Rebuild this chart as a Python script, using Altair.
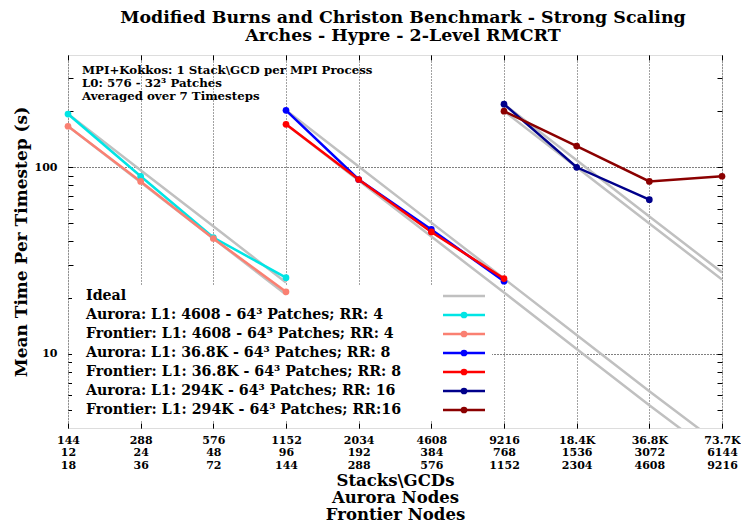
import altair as alt
import pandas as pd

# ---------------- data ----------------
stack_labels = ["144", "288", "576", "1152", "2034", "4608", "9216", "18.4K", "36.8K", "73.7K"]
aurora_nodes = ["12", "24", "48", "96", "192", "384", "768", "1536", "3072", "6144"]
frontier_nodes = ["18", "36", "72", "144", "288", "576", "1152", "2304", "4608", "9216"]

series_names = [
    "Ideal",
    "Aurora: L1: 4608 - 64³ Patches; RR: 4",
    "Frontier: L1: 4608 - 64³ Patches; RR: 4",
    "Aurora: L1: 36.8K - 64³ Patches; RR: 8",
    "Frontier: L1: 36.8K - 64³ Patches; RR: 8",
    "Aurora: L1: 294K - 64³ Patches; RR: 16",
    "Frontier: L1: 294K - 64³ Patches; RR:16",
]
series_colors = ["#c0c0c0", "#00e5e5", "#fa8072", "#0000ff", "#ff0000", "#00008b", "#8b0000"]

aurora_rr4_x = [0, 1, 2, 3]
aurora_rr4_t = [193, 89.5, 42.0, 25.6]
frontier_rr4_x = [0, 1, 2, 3]
frontier_rr4_t = [166, 84, 41.5, 21.5]
aurora_rr8_x = [3, 4, 5, 6]
aurora_rr8_t = [202, 86, 46.4, 24.5]
frontier_rr8_x = [3, 4, 5, 6]
frontier_rr8_t = [170, 86, 45.0, 25.3]
aurora_rr16_x = [6, 7, 8]
aurora_rr16_t = [218, 100, 67]
frontier_rr16_x = [6, 7, 8, 9]
frontier_rr16_t = [200, 130, 84, 89.5]

ideal_a4_x = [0, 1, 2, 3]
ideal_a4_t = [193, 96.5, 48.3, 24.1]
ideal_f4_x = [0, 1, 2, 3]
ideal_f4_t = [166, 83, 41.5, 20.8]
ideal_a8_x = [3, 4, 5, 6, 7, 8, 9]
ideal_a8_t = [202, 101, 50.5, 25.3, 12.6, 6.3, 3.2]
ideal_f8_x = [3, 4, 5, 6, 7, 8, 9]
ideal_f8_t = [170, 85, 42.5, 21.3, 10.6, 5.3, 2.7]
ideal_a16_x = [6, 7, 8, 9]
ideal_a16_t = [218, 109, 54.5, 27.3]
ideal_f16_x = [6, 7, 8, 9]
ideal_f16_t = [200, 100, 50, 25]

title_lines = ["Modified Burns and Christon Benchmark - Strong Scaling",
               "Arches - Hypre - 2-Level RMCRT"]
annotation_lines = ["MPI+Kokkos: 1 Stack\\GCD per MPI Process",
                    "L0: 576 - 32³ Patches",
                    "Averaged over 7 Timesteps"]
x_title_lines = ["Stacks\\GCDs", "Aurora Nodes", "Frontier Nodes"]
y_title = "Mean Time Per Timestep (s)"
y_major = [10, 100]
y_ticks_all = [5, 6, 7, 8, 9, 10, 20, 30, 40, 50, 60, 70, 80, 90, 100, 200, 300]
x_ticks = list(range(10))

# ---------------- tables ----------------
measured = [
    (aurora_rr4_x, aurora_rr4_t, series_names[1]),
    (frontier_rr4_x, frontier_rr4_t, series_names[2]),
    (aurora_rr8_x, aurora_rr8_t, series_names[3]),
    (frontier_rr8_x, frontier_rr8_t, series_names[4]),
    (aurora_rr16_x, aurora_rr16_t, series_names[5]),
    (frontier_rr16_x, frontier_rr16_t, series_names[6]),
]
rows = []
for xs_, ts_, name in measured:
    for xv, tv in zip(xs_, ts_):
        rows.append({"x": xv, "t": tv, "series": name})
meas_df = pd.DataFrame(rows)

ideal_sets = [
    (ideal_a4_x, ideal_a4_t), (ideal_f4_x, ideal_f4_t),
    (ideal_a8_x, ideal_a8_t), (ideal_f8_x, ideal_f8_t),
    (ideal_a16_x, ideal_a16_t), (ideal_f16_x, ideal_f16_t),
]
irows = []
for gi, (xs_, ts_) in enumerate(ideal_sets):
    for xv, tv in zip(xs_, ts_):
        irows.append({"x": xv, "t": tv, "series": "Ideal", "group": gi})
ideal_df = pd.DataFrame(irows)

legend_df = pd.DataFrame({"series": series_names, "row": list(range(len(series_names)))})
legend_dot_df = legend_df[legend_df["series"] != "Ideal"]

label_expr = "[" + ",".join(
    "['%s','%s','%s']" % (a, b, c) for a, b, c in zip(stack_labels, aurora_nodes, frontier_nodes)
) + "][datum.value]"

# ---------------- chart ----------------
FONT = "DejaVu Serif"
W, H = 654, 373

xs = alt.Scale(domain=[0, 9], nice=False, zero=False)
ys = alt.Scale(type="log", domain=[4, 400], nice=False)
cs = alt.Scale(domain=series_names, range=series_colors)
color = alt.Color("series:N", scale=cs, legend=None)

x_main_axis = alt.Axis(values=x_ticks, labelExpr=label_expr, grid=True, gridDash=[1, 2],
                       gridColor="#444", ticks=False, domain=False, labelFont=FONT,
                       labelFontSize=11, labelFontWeight="bold", labelColor="black",
                       labelBaseline="top", labelLineHeight=12.5, labelPadding=6,
                       labelFlush=False, labelOverlap=False,
                       title=x_title_lines, titleFont=FONT, titleFontSize=16.5,
                       titleFontWeight="bold", titleColor="black", titleLineHeight=17,
                       titlePadding=2)
y_main_axis = alt.Axis(values=y_major, format="d", grid=True, gridDash=[1, 2],
                       gridColor="black", ticks=False, domain=False, labelFont=FONT,
                       labelFontSize=11, labelFontWeight="bold", labelColor="black",
                       labelPadding=11, title=y_title, titleFont=FONT, titleFontSize=17,
                       titleFontWeight="bold", titleColor="black", titlePadding=4)

def tick_axis(orient, values):
    return alt.Axis(orient=orient, offset=-5, tickSize=5, values=values, labels=False,
                    domain=False, grid=False, title=None, tickColor="black")

legend_y = alt.Y("row:O", axis=None,
                 scale=alt.Scale(type="point", domain=list(range(len(series_names))),
                                 range=[241, 355], padding=0))

legend_box = alt.Chart(pd.DataFrame({"k": [0]})).mark_rect(color="white").encode(
    x=alt.value(4), x2=alt.value(424), y=alt.value(230), y2=alt.value(366))

ideal_layer = alt.Chart(ideal_df).mark_line(strokeWidth=2.5, clip=True).encode(
    x=alt.X("x:Q", scale=xs, axis=x_main_axis),
    y=alt.Y("t:Q", scale=ys, axis=y_main_axis),
    color=color,
    detail="group:N",
)

line_layer = alt.Chart(meas_df).mark_line(strokeWidth=2.5, clip=True).encode(
    x=alt.X("x:Q", scale=xs, axis=tick_axis("top", x_ticks)),
    y=alt.Y("t:Q", scale=ys, axis=tick_axis("right", y_ticks_all)),
    color=color,
)

point_layer = alt.Chart(meas_df).mark_point(filled=True, size=45, opacity=1).encode(
    x=alt.X("x:Q", scale=xs, axis=tick_axis("bottom", x_ticks)),
    y=alt.Y("t:Q", scale=ys, axis=tick_axis("left", y_ticks_all)),
    color=color,
)

legend_text = alt.Chart(legend_df).mark_text(
    align="left", baseline="middle", font=FONT, fontSize=14.2, fontWeight="bold",
    color="black").encode(x=alt.value(18), y=legend_y, text="series:N")

legend_rule = alt.Chart(legend_df).mark_rule(strokeWidth=2.5).encode(
    x=alt.value(375), x2=alt.value(417), y=legend_y, color=color)

legend_dot = alt.Chart(legend_dot_df).mark_point(filled=True, size=45, opacity=1).encode(
    x=alt.value(396), y=legend_y, color=color)

annotation = alt.Chart(pd.DataFrame({"k": [0]})).mark_text(
    align="left", baseline="top", font=FONT, fontSize=11.8, fontWeight="bold",
    lineHeight=13, color="black").encode(
    x=alt.value(14), y=alt.value(10), text=alt.value(annotation_lines))

chart = alt.layer(
    legend_box, ideal_layer, line_layer, point_layer,
    legend_rule, legend_dot, legend_text, annotation,
).resolve_scale(y="independent").resolve_axis(x="independent", y="independent").properties(
    width=W, height=H,
    padding={"left": 60, "top": 47, "right": 19, "bottom": 94},
    autosize=alt.AutoSizeParams(type="none"),
    title=alt.TitleParams(text=title_lines, font=FONT, fontSize=17.4, fontWeight="bold",
                          anchor="middle", lineHeight=18.5, offset=10, color="black", dx=8),
).configure_view(stroke="black", strokeWidth=1).configure(background="white")

chart.save("out.html", embed_options={"renderer": "svg", "actions": False})
